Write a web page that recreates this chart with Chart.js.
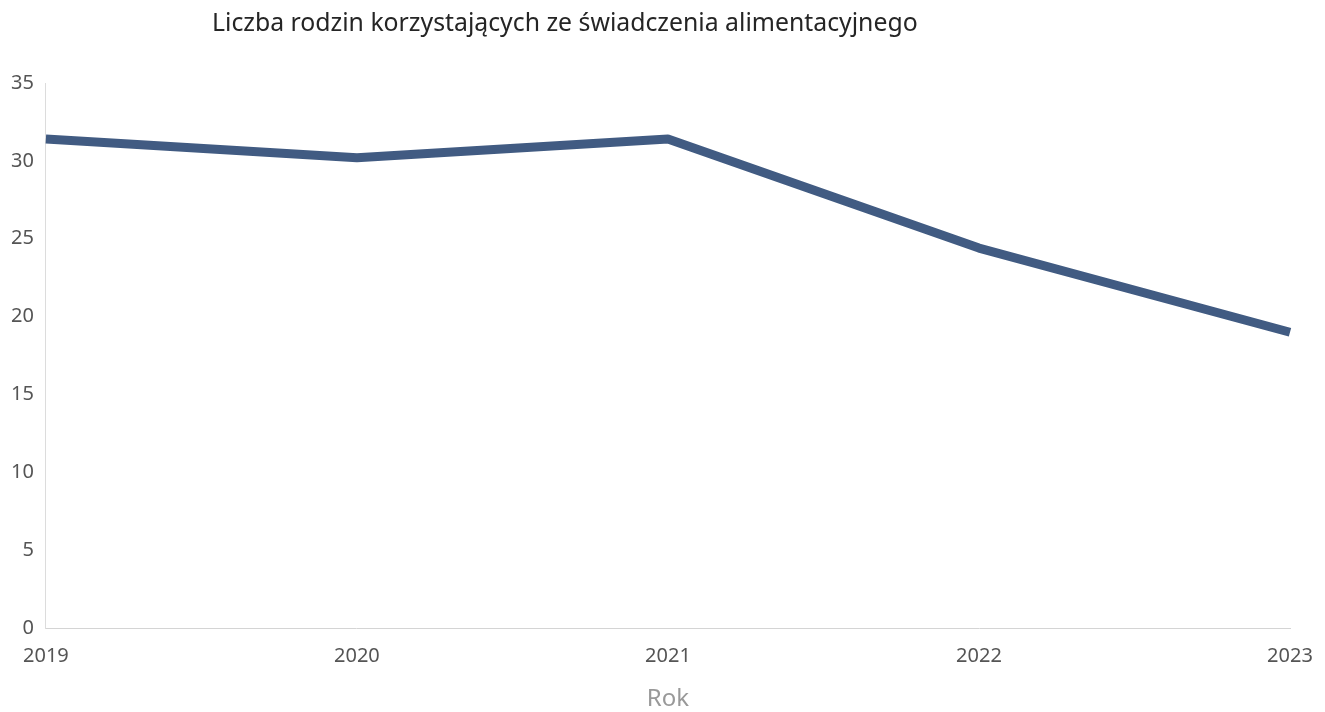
<!DOCTYPE html>
<html>
<head>
<meta charset="utf-8">
<script src="https://cdn.jsdelivr.net/npm/chart.js@4/dist/chart.umd.min.js"></script>
<style>
  html, body { margin: 0; padding: 0; background: #fff; overflow: hidden; }
  #wrap { position: relative; width: 1325px; height: 712px; overflow: hidden; }
  #title {
    position: absolute; left: 212px; top: 4px;
    font-family: "Noto Sans", sans-serif; font-size: 24.8px; color: #252525;
  }
</style>
</head>
<body>
<div id="wrap">
  <canvas id="myChart" width="1325" height="718"></canvas>
  <div id="title">Liczba rodzin korzystających ze świadczenia alimentacyjnego</div>
</div>
<script>
var years = ["2019", "2020", "2021", "2022", "2023"];
var families = [31.4, 30.2, 31.4, 24.4, 19.0];
var yTicks = [0, 5, 10, 15, 20, 25, 30, 35];

var ctx = document.getElementById("myChart").getContext("2d");
var myChart = new Chart(ctx, {
  type: 'line',
  data: {
    labels: years,
    datasets: [{
      label: 'Liczba rodzin',
      data: families,
      borderColor: '#415b82',
      backgroundColor: '#415b82',
      borderWidth: 9,
      pointRadius: 0,
      tension: 0,
      borderJoinStyle: 'round'
    }]
  },
  options: {
    responsive: false,
    animation: false,
    layout: { padding: { top: 83, right: 35, bottom: 0, left: 7 } },
    plugins: {
      legend: { display: false },
      tooltip: { enabled: false }
    },
    scales: {
      x: {
        offset: false,
        grid: { display: false },
        border: { display: true, color: '#d4d4d4', width: 1 },
        ticks: {
          color: '#555',
          font: { family: 'Noto Sans', size: 20 },
          maxRotation: 0,
          padding: 8
        },
        title: {
          display: true,
          text: 'Rok',
          color: '#999',
          font: { family: 'Noto Sans', size: 24 },
          padding: { top: 9 }
        }
      },
      y: {
        min: 0,
        max: 35,
        afterBuildTicks: function (axis) {
          axis.ticks = yTicks.map(function (v) { return { value: v }; });
        },
        grid: { display: false },
        border: { display: true, color: '#dcdcdc', width: 1 },
        ticks: {
          color: '#555',
          font: { family: 'Noto Sans', size: 20 },
          padding: 4
        }
      }
    }
  }
});
</script>
</body>
</html>
